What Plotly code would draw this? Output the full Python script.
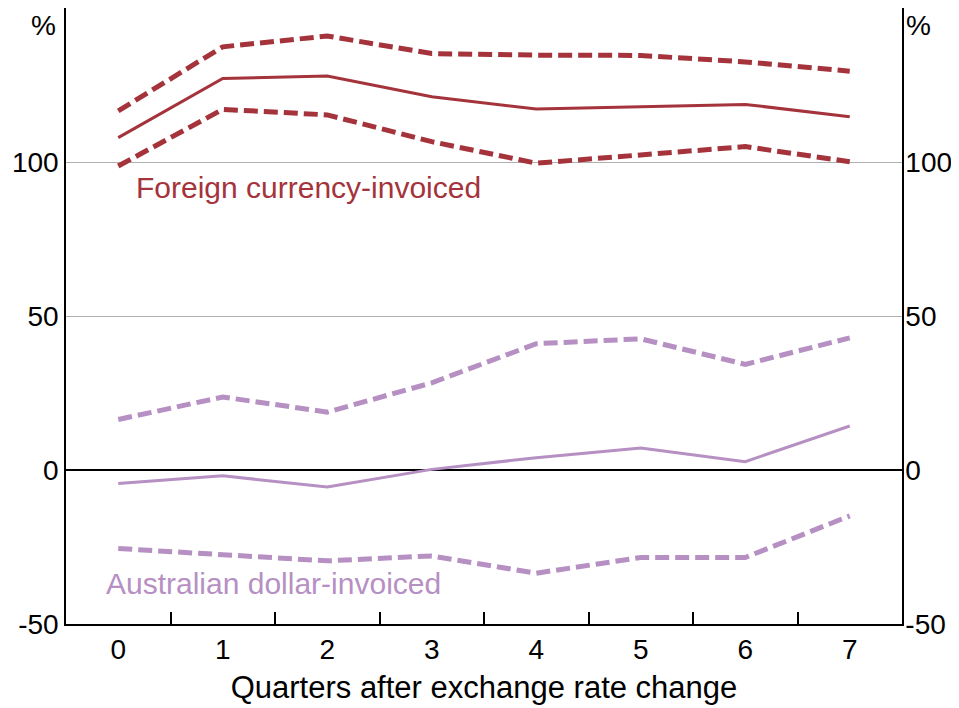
import plotly.graph_objects as go

quarters = [0, 1, 2, 3, 4, 5, 6, 7]
fc_mid = [107.9, 127.1, 127.9, 121.2, 117.2, 118.0, 118.7, 114.7]
fc_upper = [116.6, 137.4, 140.9, 135.2, 134.7, 134.6, 132.5, 129.5]
fc_lower = [98.7, 117.1, 115.3, 106.6, 99.6, 102.3, 105.0, 100.1]
aud_mid = [-4.4, -1.9, -5.5, 0.2, 4.0, 7.1, 2.7, 14.3]
aud_upper = [16.4, 23.7, 18.8, 28.3, 41.0, 42.6, 34.3, 42.9]
aud_lower = [-25.5, -27.6, -29.5, -27.9, -33.5, -28.4, -28.4, -14.9]
y_ticks = [-50, 0, 50, 100, 150]
y_ticklabels = ["-50", "0", "50", "100", ""]
x_minor_ticks = [0.5, 1.5, 2.5, 3.5, 4.5, 5.5, 6.5]

RED = "#a5333b"
PURPLE = "#b68fc3"
FONT = "Liberation Sans, Arial, sans-serif"

fig = go.Figure()

def add(y, color, dashed):
    fig.add_trace(go.Scatter(
        x=quarters, y=y, mode="lines",
        line=dict(color=color, width=5 if dashed else 3,
                  dash="14px,6px" if dashed else "solid"),
        showlegend=False, hoverinfo="skip"))

add(fc_upper, RED, True)
add(fc_lower, RED, True)
add(fc_mid, RED, False)
add(aud_upper, PURPLE, True)
add(aud_lower, PURPLE, True)
add(aud_mid, PURPLE, False)

fig.add_trace(go.Scatter(x=[None], y=[None], yaxis="y2", showlegend=False))
fig.add_trace(go.Scatter(x=[None], y=[None], xaxis="x2", showlegend=False))

tickfont = dict(family=FONT, size=28, color="black")

fig.update_layout(
    width=951, height=700,
    margin=dict(l=58, r=57, t=0, b=84, autoexpand=False),
    paper_bgcolor="white", plot_bgcolor="white",
    xaxis=dict(range=[-0.5, 7.5], tickvals=quarters, ticktext=[str(q) for q in quarters],
               ticks="", showgrid=False, zeroline=False, automargin=False,
               showline=True, linecolor="black", linewidth=1.5, mirror=True,
               tickfont=tickfont, ticklabelstandoff=0,
               title=dict(text="Quarters after exchange rate change",
                          font=dict(family=FONT, size=31, color="black"), standoff=12)),
    xaxis2=dict(range=[-0.5, 7.5], overlaying="x", side="bottom", anchor="y",
                tickvals=x_minor_ticks, ticks="inside", ticklen=12, tickwidth=1.5,
                tickcolor="black", showticklabels=False, showgrid=False,
                zeroline=False, showline=False, automargin=False),
    yaxis=dict(range=[-50, 150], tickvals=y_ticks, ticktext=y_ticklabels,
               ticks="", showgrid=True, gridcolor="#b0b0b0", gridwidth=1,
               zeroline=True, zerolinecolor="black", zerolinewidth=1.5,
               showline=True, linecolor="black", linewidth=1.5, automargin=False,
               tickfont=tickfont, ticklabelstandoff=0),
    yaxis2=dict(range=[-50, 150], tickvals=y_ticks, ticktext=y_ticklabels,
                overlaying="y", side="right", ticks="", showgrid=False,
                zeroline=False, showline=True, linecolor="black", linewidth=1.5,
                automargin=False, tickfont=tickfont, ticklabelstandoff=-4),
    annotations=[
        dict(text="%", xref="paper", yref="paper", x=0, y=1, xanchor="right",
             yanchor="top", xshift=-8, yshift=0, showarrow=False,
             font=dict(family=FONT, size=28, color="black")),
        dict(text="%", xref="paper", yref="paper", x=1, y=1, xanchor="left",
             yanchor="top", xshift=2, yshift=0, showarrow=False,
             font=dict(family=FONT, size=28, color="black")),
        dict(text="Foreign currency-invoiced", x=0.15, y=91.6, xanchor="left",
             yanchor="middle", showarrow=False,
             font=dict(family=FONT, size=30, color=RED)),
        dict(text="Australian dollar-invoiced", x=-0.14, y=-37, xanchor="left",
             yanchor="middle", showarrow=False,
             font=dict(family=FONT, size=30, color=PURPLE)),
    ],
)

fig.write_html("out.html")
